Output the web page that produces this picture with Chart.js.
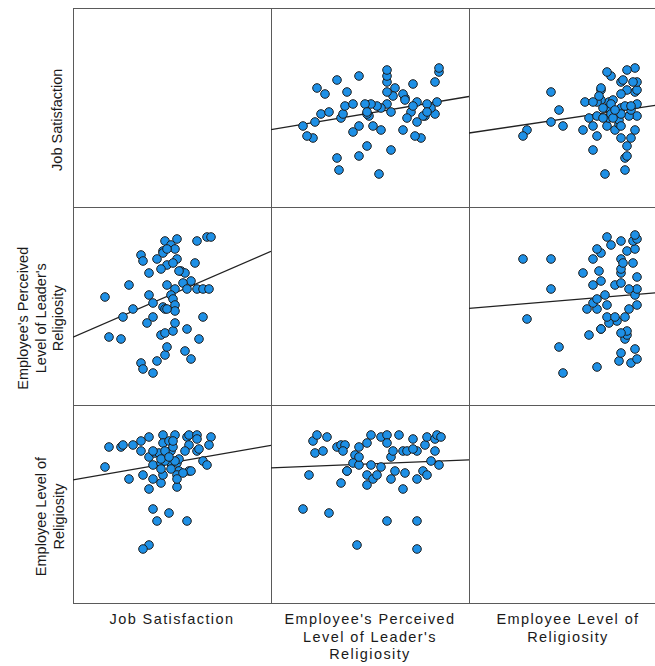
<!DOCTYPE html>
<html>
<head>
<meta charset="utf-8">
<script src="https://cdn.jsdelivr.net/npm/chart.js@4"></script>
<style>
  body { margin:0; width:655px; height:666px; overflow:hidden; background:#fff; position:relative;
         font-family:"Liberation Sans", Arial, sans-serif; color:#1a1a1a; }
  .line { position:absolute; background:#5a5a5a; }
  .lbl { position:absolute; font-size:14.5px; text-align:center; white-space:pre; }
  canvas { position:absolute; }
</style>
</head>
<body>
<script>
// variable names (rows top->bottom, columns left->right)
var varLabels = ["Job Satisfaction", "Employee's Perceived\nLevel of Leader's\nReligiosity", "Employee Level of\nReligiosity"];

// pair A: job satisfaction vs perceived leader religiosity
var satisfactionA = [16,28,25,30,18,24,34,35,38,38, 40,37,40,34,35,40,42,46,47,44, 46,50,51,57,63,65,56,59,46,52,
                     49,45,45,51,42,52,47,50,44,61, 62,67,69,54,56,59,55,47,51,57, 62,65,68,49,50,45,46,51,51,47, 53,47];
var leaderA = [54,60,44,48,34,33,75,72,66,55, 51,41,44,21,18,16,22,25,29,35, 36,37,41,38,33,44,27,23,82,83,
               80,77,76,78,73,73,70,71,68,71, 82,84,84,67,66,62,61,60,58,58, 58,58,58,55,53,49,48,50,47,48, 67,78];

// pair B: job satisfaction vs employee religiosity
var satisfactionB = [16,18,24,25,30,34,38,34,38,28, 35,40,38,44,40,44,49,52,45,45, 48,51,57,58,62,62,69,68,58,49,
                     56,62,63,41,43,46,50,53,58,59, 65,67,53,46,51,52,52,45,44,49, 40,48,42,57,38,35,52,55,44,50, 40,48];
var employeeB = [68,78,78,79,79,81,83,76,73,62, 64,62,57,60,69,70,70,70,84,80, 81,84,83,84,84,82,83,79,79,76,
                 76,76,77,75,75,76,78,72,66,66, 71,69,66,71,71,64,58,64,67,67, 47,45,41,41,29,27,62,65,72,81, 76,73];

// pair C: perceived leader religiosity vs employee religiosity
var leaderC = [16,29,19,35,43,58,73,73,21,23, 28,22,26,33,35,37,36,38,42,41, 44,44,48,50,50,48,48,51,53,55,
               55,58,58,60,61,64,62,60,66,67, 66,68,71,73,73,77,76,78,78,80, 82,83,85,82,84,44,38,71];
var employeeC = [47,45,64,60,29,41,41,27,81,84, 83,75,76,78,79,79,76,66,74,70, 69,78,80,84,69,64,59,62,64,68,
                 83,84,80,73,76,84,66,62,57,65, 76,76,82,76,62,79,66,64,83,71, 82,84,83,76,69,73,66,77];

var axisMin = 0, axisMax = 99;
var left = 73, colW = 198;
var rowTops = [8, 207, 405, 603];

function addLine(x, y, w, h) {
  var d = document.createElement('div');
  d.className = 'line';
  d.style.left = x + 'px'; d.style.top = y + 'px';
  d.style.width = w + 'px'; d.style.height = h + 'px';
  document.body.appendChild(d);
}
// frame and cell dividers
for (var i = 0; i < 4; i++) addLine(left, rowTops[i], 700, 1);
for (var j = 0; j < 3; j++) addLine(left + j*colW, rowTops[0], 1, rowTops[3] - rowTops[0] + 1);

// least squares fit
function fit(xs, ys) {
  var n = xs.length, mx = 0, my = 0;
  for (var i = 0; i < n; i++) { mx += xs[i]; my += ys[i]; }
  mx /= n; my /= n;
  var sxy = 0, sxx = 0;
  for (var i = 0; i < n; i++) { sxy += (xs[i]-mx)*(ys[i]-my); sxx += (xs[i]-mx)*(xs[i]-mx); }
  var b = sxy / sxx;
  return { a: my - b*mx, b: b };
}

function cellChart(r, c, xs, ys) {
  var cv = document.createElement('canvas');
  cv.width = 198; cv.height = 198;
  cv.style.left = (left + c*colW) + 'px';
  cv.style.top = rowTops[r] + 'px';
  document.body.appendChild(cv);
  var pts = xs.map(function (x, i) { return { x: x, y: ys[i] }; });
  var f = fit(xs, ys);
  new Chart(cv, {
    type: 'scatter',
    data: {
      datasets: [{
        data: pts,
        backgroundColor: '#1e90e6',
        borderColor: '#1c1c1c',
        borderWidth: 1,
        pointRadius: 4.3,
        order: 1
      }, {
        type: 'line',
        data: [{ x: axisMin, y: f.a + f.b*axisMin }, { x: axisMax, y: f.a + f.b*axisMax }],
        borderColor: '#222',
        borderWidth: 1.3,
        pointRadius: 0,
        showLine: true,
        fill: false,
        order: 2
      }]
    },
    options: {
      responsive: false,
      animation: false,
      events: [],
      layout: { padding: 0, autoPadding: false },
      plugins: { legend: { display: false }, tooltip: { enabled: false } },
      scales: {
        x: { type: 'linear', display: false, min: axisMin, max: axisMax },
        y: { type: 'linear', display: false, min: axisMin, max: axisMax }
      }
    }
  });
}

cellChart(0, 1, leaderA, satisfactionA);
cellChart(0, 2, employeeB, satisfactionB);
cellChart(1, 0, satisfactionA, leaderA);
cellChart(1, 2, employeeC, leaderC);
cellChart(2, 0, satisfactionB, employeeB);
cellChart(2, 1, leaderC, employeeC);

// axis titles
varLabels.forEach(function (t, k) {
  // bottom
  var d = document.createElement('div');
  d.className = 'lbl';
  d.textContent = t;
  d.style.left = (left + k*colW) + 'px';
  d.style.width = colW + 'px';
  d.style.top = '611px';
  d.style.lineHeight = '17.5px';
  d.style.letterSpacing = '1.4px';
  document.body.appendChild(d);
  // left, rotated
  var n = t.split('\n').length;
  var lh = 17.5;
  var h = n * lh, w = 198;
  var cx = 67 - h/2;
  var cy = (rowTops[k] + rowTops[k+1]) / 2 + 12;
  var e = document.createElement('div');
  e.className = 'lbl';
  e.textContent = t;
  e.style.width = w + 'px'; e.style.height = h + 'px';
  e.style.lineHeight = lh + 'px';
  e.style.left = (cx - w/2) + 'px';
  e.style.top = (cy - h/2) + 'px';
  e.style.transform = 'rotate(-90deg)';
  document.body.appendChild(e);
});
</script>
</body>
</html>
